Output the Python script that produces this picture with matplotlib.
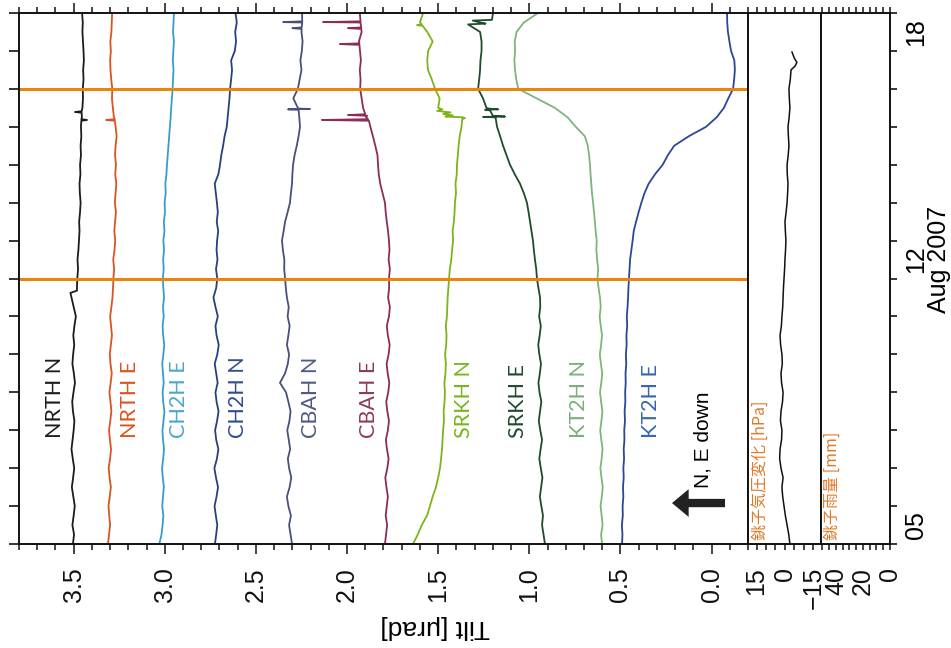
import numpy as np
import matplotlib
matplotlib.use("Agg")
import matplotlib.pyplot as plt
from matplotlib.ticker import MultipleLocator, FixedLocator, FormatStrFormatter
from matplotlib.transforms import blended_transform_factory

plt.rcParams['font.family'] = ['Liberation Sans', 'DejaVu Sans']

# sample times, day of Aug 2007 (6 h steps, 05 00h .. 19 00h)
days = np.arange(5.0, 19.001, 0.25)

# tilt records [urad], one value per sample time (with plot offsets)
nrth_n = [3.504, 3.498, 3.507, 3.500, 3.494, 3.502, 3.510, 3.503,
          3.497, 3.505, 3.512, 3.506, 3.500, 3.496, 3.504, 3.508,
          3.501, 3.493, 3.499, 3.507, 3.503, 3.497, 3.502, 3.496,
          3.488, 3.500, 3.512, 3.482, 3.480, 3.476, 3.479, 3.474,
          3.471, 3.468, 3.470, 3.465, 3.462, 3.466, 3.468, 3.463,
          3.465, 3.460, 3.462, 3.458, 3.460, 3.455, 3.452, 3.449,
          3.450, 3.446, 3.448, 3.444, 3.446, 3.449, 3.452, 3.450,
          3.454]
nrth_e = [3.312, 3.306, 3.300, 3.305, 3.309, 3.302, 3.296, 3.303,
          3.308, 3.300, 3.295, 3.301, 3.306, 3.299, 3.293, 3.298,
          3.304, 3.297, 3.291, 3.298, 3.302, 3.296, 3.290, 3.295,
          3.300, 3.293, 3.287, 3.284, 3.282, 3.278, 3.283, 3.276,
          3.272, 3.277, 3.273, 3.268, 3.274, 3.270, 3.266, 3.272,
          3.268, 3.273, 3.270, 3.264, 3.270, 3.279, 3.285, 3.290,
          3.288, 3.294, 3.298, 3.300, 3.296, 3.299, 3.293, 3.291,
          3.289]
ch2h_e = [3.030, 3.018, 3.012, 3.008, 3.014, 3.010, 3.005, 3.011,
          3.015, 3.009, 3.004, 3.010, 3.013, 3.007, 3.002, 3.009,
          3.012, 3.006, 3.010, 3.014, 3.008, 3.003, 3.009, 3.012,
          3.006, 3.010, 3.004, 3.008, 3.011, 3.006, 3.009, 3.004,
          3.008, 3.002, 3.005, 2.999, 3.001, 2.995, 2.997, 2.991,
          2.988, 2.984, 2.980, 2.976, 2.972, 2.968, 2.965, 2.961,
          2.957, 2.955, 2.952, 2.956, 2.953, 2.950, 2.955, 2.952,
          2.950]
ch2h_n = [2.725, 2.718, 2.712, 2.720, 2.727, 2.716, 2.708, 2.719,
          2.728, 2.714, 2.706, 2.718, 2.724, 2.713, 2.705, 2.716,
          2.722, 2.710, 2.718, 2.726, 2.712, 2.704, 2.716, 2.722,
          2.709, 2.722, 2.733, 2.718, 2.712, 2.719, 2.711, 2.716,
          2.713, 2.707, 2.715, 2.709, 2.714, 2.720, 2.726, 2.706,
          2.697, 2.690, 2.680, 2.672, 2.660, 2.655, 2.650, 2.645,
          2.642, 2.636, 2.631, 2.636, 2.616, 2.609, 2.614, 2.605,
          2.612]
cbah_n = [2.302, 2.310, 2.318, 2.308, 2.322, 2.330, 2.315, 2.306,
          2.318, 2.325, 2.312, 2.320, 2.328, 2.316, 2.310, 2.322,
          2.335, 2.368, 2.340, 2.325, 2.318, 2.330, 2.322, 2.315,
          2.326, 2.320, 2.330, 2.336, 2.340, 2.345, 2.344, 2.352,
          2.357, 2.348, 2.340, 2.326, 2.313, 2.308, 2.302, 2.300,
          2.296, 2.288, 2.276, 2.266, 2.258, 2.262, 2.270, 2.295,
          2.270, 2.260, 2.250, 2.256, 2.248, 2.244, 2.250, 2.246,
          2.247]
cbah_e = [1.792, 1.786, 1.780, 1.788, 1.782, 1.776, 1.784, 1.790,
          1.779, 1.772, 1.781, 1.787, 1.776, 1.770, 1.779, 1.785,
          1.774, 1.768, 1.777, 1.783, 1.772, 1.766, 1.776, 1.782,
          1.770, 1.765, 1.775, 1.769, 1.770, 1.765, 1.772, 1.767,
          1.770, 1.775, 1.782, 1.788, 1.792, 1.805, 1.818, 1.826,
          1.830, 1.833, 1.845, 1.858, 1.872, 1.895, 1.912, 1.920,
          1.928, 1.926, 1.930, 1.924, 1.929, 1.935, 1.920, 1.926,
          1.930]
srkh_n = [1.638, 1.612, 1.590, 1.561, 1.545, 1.530, 1.512, 1.500,
          1.490, 1.484, 1.479, 1.476, 1.473, 1.468, 1.470, 1.465,
          1.463, 1.466, 1.460, 1.458, 1.462, 1.456, 1.454, 1.458,
          1.452, 1.450, 1.448, 1.444, 1.440, 1.436, 1.428, 1.424,
          1.418, 1.421, 1.414, 1.410, 1.408, 1.402, 1.405, 1.398,
          1.397, 1.392, 1.388, 1.382, 1.372, 1.365, 1.500, 1.492,
          1.517, 1.535, 1.556, 1.560, 1.555, 1.530, 1.560, 1.600,
          1.583]
srkh_e = [0.914, 0.922, 0.930, 0.925, 0.934, 0.942, 0.935, 0.928,
          0.937, 0.945, 0.938, 0.930, 0.940, 0.948, 0.941, 0.934,
          0.944, 0.950, 0.942, 0.936, 0.945, 0.951, 0.943, 0.937,
          0.946, 0.940, 0.941, 0.950, 0.958, 0.962, 0.969, 0.975,
          0.980, 0.988, 0.996, 1.004, 1.013, 1.030, 1.051, 1.080,
          1.106, 1.125, 1.144, 1.160, 1.177, 1.190, 1.235, 1.254,
          1.281, 1.275, 1.270, 1.268, 1.262, 1.262, 1.270, 1.270,
          1.199]
kt2h_n = [0.601, 0.606, 0.598, 0.603, 0.609, 0.602, 0.597, 0.604,
          0.610, 0.603, 0.598, 0.605, 0.611, 0.604, 0.599, 0.606,
          0.612, 0.605, 0.600, 0.607, 0.613, 0.606, 0.601, 0.608,
          0.614, 0.608, 0.612, 0.620, 0.626, 0.622, 0.628, 0.632,
          0.630, 0.636, 0.640, 0.645, 0.650, 0.656, 0.660, 0.664,
          0.667, 0.672, 0.679, 0.695, 0.745, 0.790, 0.860, 0.960,
          1.060, 1.072, 1.078, 1.082, 1.078, 1.080, 1.070, 1.030,
          0.952]
kt2h_e = [0.491, 0.489, 0.492, 0.487, 0.488, 0.484, 0.486, 0.482,
          0.484, 0.480, 0.482, 0.478, 0.479, 0.475, 0.477, 0.473,
          0.474, 0.471, 0.472, 0.468, 0.470, 0.466, 0.467, 0.463,
          0.465, 0.461, 0.458, 0.456, 0.453, 0.450, 0.447, 0.440,
          0.433, 0.427, 0.414, 0.400, 0.385, 0.368, 0.345, 0.310,
          0.268, 0.240, 0.205, 0.125, 0.030, -0.028, -0.068, -0.092,
          -0.118, -0.124, -0.128, -0.125, -0.107, -0.098, -0.090, -0.086,
          -0.085]

# short spikes / steps between the regular samples
nrth_n_sp_t = [11.62, 11.68, 16.16, 16.18, 16.20, 16.37, 16.39, 16.41]
nrth_n_sp_v = [3.518, 3.482, 3.458, 3.427, 3.458, 3.456, 3.493, 3.456]
nrth_e_sp_t = [16.16, 16.18, 16.20]
nrth_e_sp_v = [3.274, 3.322, 3.274]
cbah_n_sp_t = [16.45, 16.46, 16.47, 16.48, 18.58, 18.60, 18.62, 18.74, 18.76, 18.78]
cbah_n_sp_v = [2.266, 2.324, 2.203, 2.266, 2.249, 2.300, 2.249, 2.246, 2.351, 2.246]
cbah_e_sp_t = [16.16, 16.18, 16.20, 16.29, 16.31, 16.33,
               18.16, 18.18, 18.20, 18.58, 18.60, 18.62, 18.74, 18.76, 18.78]
cbah_e_sp_v = [1.880, 2.138, 1.885, 1.890, 1.995, 1.900,
               1.932, 2.039, 1.932, 1.922, 1.995, 1.922, 1.926, 2.132, 1.926]
srkh_n_sp_t = [16.20, 16.23, 16.27, 16.30, 16.34, 16.38, 16.42, 16.46, 18.66, 18.68, 18.70]
srkh_n_sp_v = [1.368, 1.353, 1.460, 1.420, 1.472, 1.432, 1.506, 1.478, 1.585, 1.616, 1.590]
srkh_e_sp_t = [16.24, 16.26, 16.27, 16.29, 16.43, 16.45, 16.46, 16.48, 18.70, 18.72, 18.80, 18.82]
srkh_e_sp_v = [1.185, 1.254, 1.133, 1.200, 1.215, 1.243, 1.171, 1.225, 1.336, 1.240, 1.310, 1.205]

# Choshi air pressure change [hPa]
pres_days = np.concatenate([np.arange(5.0, 17.501, 0.25), [17.6, 17.7, 17.8, 17.97]])
pres = [-2.6, -2.0, -1.1, -0.2, 0.5, 1.2, 1.6, 1.0,
        2.1, 2.8, 2.6, 1.8, 1.6, 2.4, 2.1, 1.3,
        1.0, 1.8, 2.1, 1.4, 1.6, 2.3, 2.6, 1.9,
        1.6, 1.2, 1.0, 0.8, 0.5, 0.2, 0.0, -0.3,
        -0.5, -0.2, 0.0, -0.6, -1.1, -1.4, -1.6, -1.2,
        -1.1, -1.7, -2.1, -1.8, -1.6, -2.2, -2.6, -2.3,
        -2.1, -2.8, -3.2, -5.3, -6.3, -5.0, -3.7]

event_days = [12.0, 17.0]


def with_spikes(vals, sp_t=(), sp_v=()):
    t = np.concatenate([days, sp_t])
    v = np.concatenate([vals, sp_v])
    o = np.argsort(t, kind="stable")
    return t[o], v[o]


series = [
    ("NRTH N", nrth_n, nrth_n_sp_t, nrth_n_sp_v, "#1c1c1c", "#1c1c1c", 3.60),
    ("NRTH E", nrth_e, nrth_e_sp_t, nrth_e_sp_v, "#d9541e", "#d9541e", 3.19),
    ("CH2H E", ch2h_e, [], [], "#3b9ccb", "#4aa6d0", 2.92),
    ("CH2H N", ch2h_n, [], [], "#27407e", "#2f4e8c", 2.60),
    ("CBAH N", cbah_n, cbah_n_sp_t, cbah_n_sp_v, "#4a4f7c", "#4e5a85", 2.20),
    ("CBAH E", cbah_e, cbah_e_sp_t, cbah_e_sp_v, "#8b2d57", "#8e3a5e", 1.88),
    ("SRKH N", srkh_n, srkh_n_sp_t, srkh_n_sp_v, "#7cb518", "#7ab51d", 1.36),
    ("SRKH E", srkh_e, srkh_e_sp_t, srkh_e_sp_v, "#1e4b2c", "#1f4a30", 1.06),
    ("KT2H N", kt2h_n, [], [], "#7fb47c", "#78b07a", 0.73),
    ("KT2H E", kt2h_e, [], [], "#2c4795", "#3565b5", 0.33),
]

W, H = 951, 648


def box(x0, x1, y0=13, y1=544):
    return [x0 / W, 1 - y1 / H, (x1 - x0) / W, (y1 - y0) / H]


fig = plt.figure(figsize=(W / 100, H / 100), dpi=100)
ax = fig.add_axes(box(19, 748))
axp = fig.add_axes(box(748, 821))
axr = fig.add_axes(box(821, 890))

for a in (ax, axp, axr):
    a.set_ylim(5, 19)
    for s in a.spines.values():
        s.set_linewidth(1.4)
        s.set_color("#111111")
    a.tick_params(axis="x", which="both", direction="out", top=True, bottom=True,
                  labelbottom=True, labeltop=False, labelrotation=90, labelsize=18,
                  width=1.1, colors="#111111")

# main tilt panel
for name, vals, sp_t, sp_v, lc, tc, lx in series:
    t, v = with_spikes(vals, sp_t, sp_v)
    ax.plot(v, t, color=lc, lw=1.3)
    ax.text(lx, 7.79, name, rotation=90, ha="center", va="bottom", color=tc,
            fontsize=15.5, family=["Lato", "DejaVu Sans"])
for d in event_days:
    ax.axhline(d, color="#e8850f", lw=2.2)

ax.set_xlim(3.8, -0.2)
ax.xaxis.set_major_locator(MultipleLocator(0.5))
ax.xaxis.set_minor_locator(MultipleLocator(0.1))
ax.xaxis.set_major_formatter(FormatStrFormatter("%.1f"))
ax.tick_params(axis="x", which="major", length=7, pad=9.5)
ax.tick_params(axis="x", which="minor", length=4)
ax.yaxis.set_major_locator(MultipleLocator(1))
ax.tick_params(axis="y", left=True, right=False, labelleft=False, direction="out",
               length=7, width=1.1)

ax.annotate("", xy=(0.217, 6.08), xytext=(-0.074, 6.08),
            arrowprops=dict(arrowstyle="simple,head_length=0.6,head_width=1.0,tail_width=0.3",
                            mutation_scale=20, fc="#222222", ec="none", shrinkA=0, shrinkB=0))
ax.text(0.047, 6.48, "N, E down", rotation=90, ha="center", va="bottom", fontsize=15)

# pressure panel
axp.plot(pres, pres_days, color="#111111", lw=1.1)
axp.set_xlim(19.5, -19)
axp.xaxis.set_major_locator(FixedLocator([15, 0, -15]))
axp.xaxis.set_minor_locator(MultipleLocator(5))
axp.tick_params(axis="x", which="both", length=4, pad=12.5)
axp.tick_params(axis="y", left=False, right=False, labelleft=False)
axp.text(0.17, 5.1, "銚子気圧変化 [hPa]", transform=blended_transform_factory(axp.transAxes, axp.transData),
         rotation=90, ha="center", va="bottom", fontsize=11.5, color="#e07a2a",
         family=["Noto Sans CJK JP", "DejaVu Sans"])

# rain panel (no rain recorded)
axr.set_xlim(51, 0)
axr.xaxis.set_major_locator(FixedLocator([40, 20, 0]))
axr.xaxis.set_minor_locator(MultipleLocator(5))
axr.tick_params(axis="x", which="both", length=4, pad=12.5)
axr.yaxis.set_major_locator(MultipleLocator(1))
axr.tick_params(axis="y", left=False, right=True, labelleft=False, labelright=False,
                direction="out", length=5, width=1.1)
axr.text(0.17, 5.1, "銚子雨量 [mm]", transform=blended_transform_factory(axr.transAxes, axr.transData),
         rotation=90, ha="center", va="bottom", fontsize=11.5, color="#e07a2a",
         family=["Noto Sans CJK JP", "DejaVu Sans"])

# day labels on the time axis
tr = blended_transform_factory(axr.transAxes, axr.transData)
for d, lab in [(5.5, "05"), (12.5, "12\nAug 2007"), (18.5, "18")]:
    axr.text(1.2, d, lab, transform=tr, rotation=90, ha="left", va="center",
             multialignment="center", fontsize=18, linespacing=0.95)

fig.text(435 / W, 1 - 627 / H, "Tilt [μrad]", rotation=180, ha="center", va="center",
         fontsize=19)

fig.savefig("out.png", dpi=100)
